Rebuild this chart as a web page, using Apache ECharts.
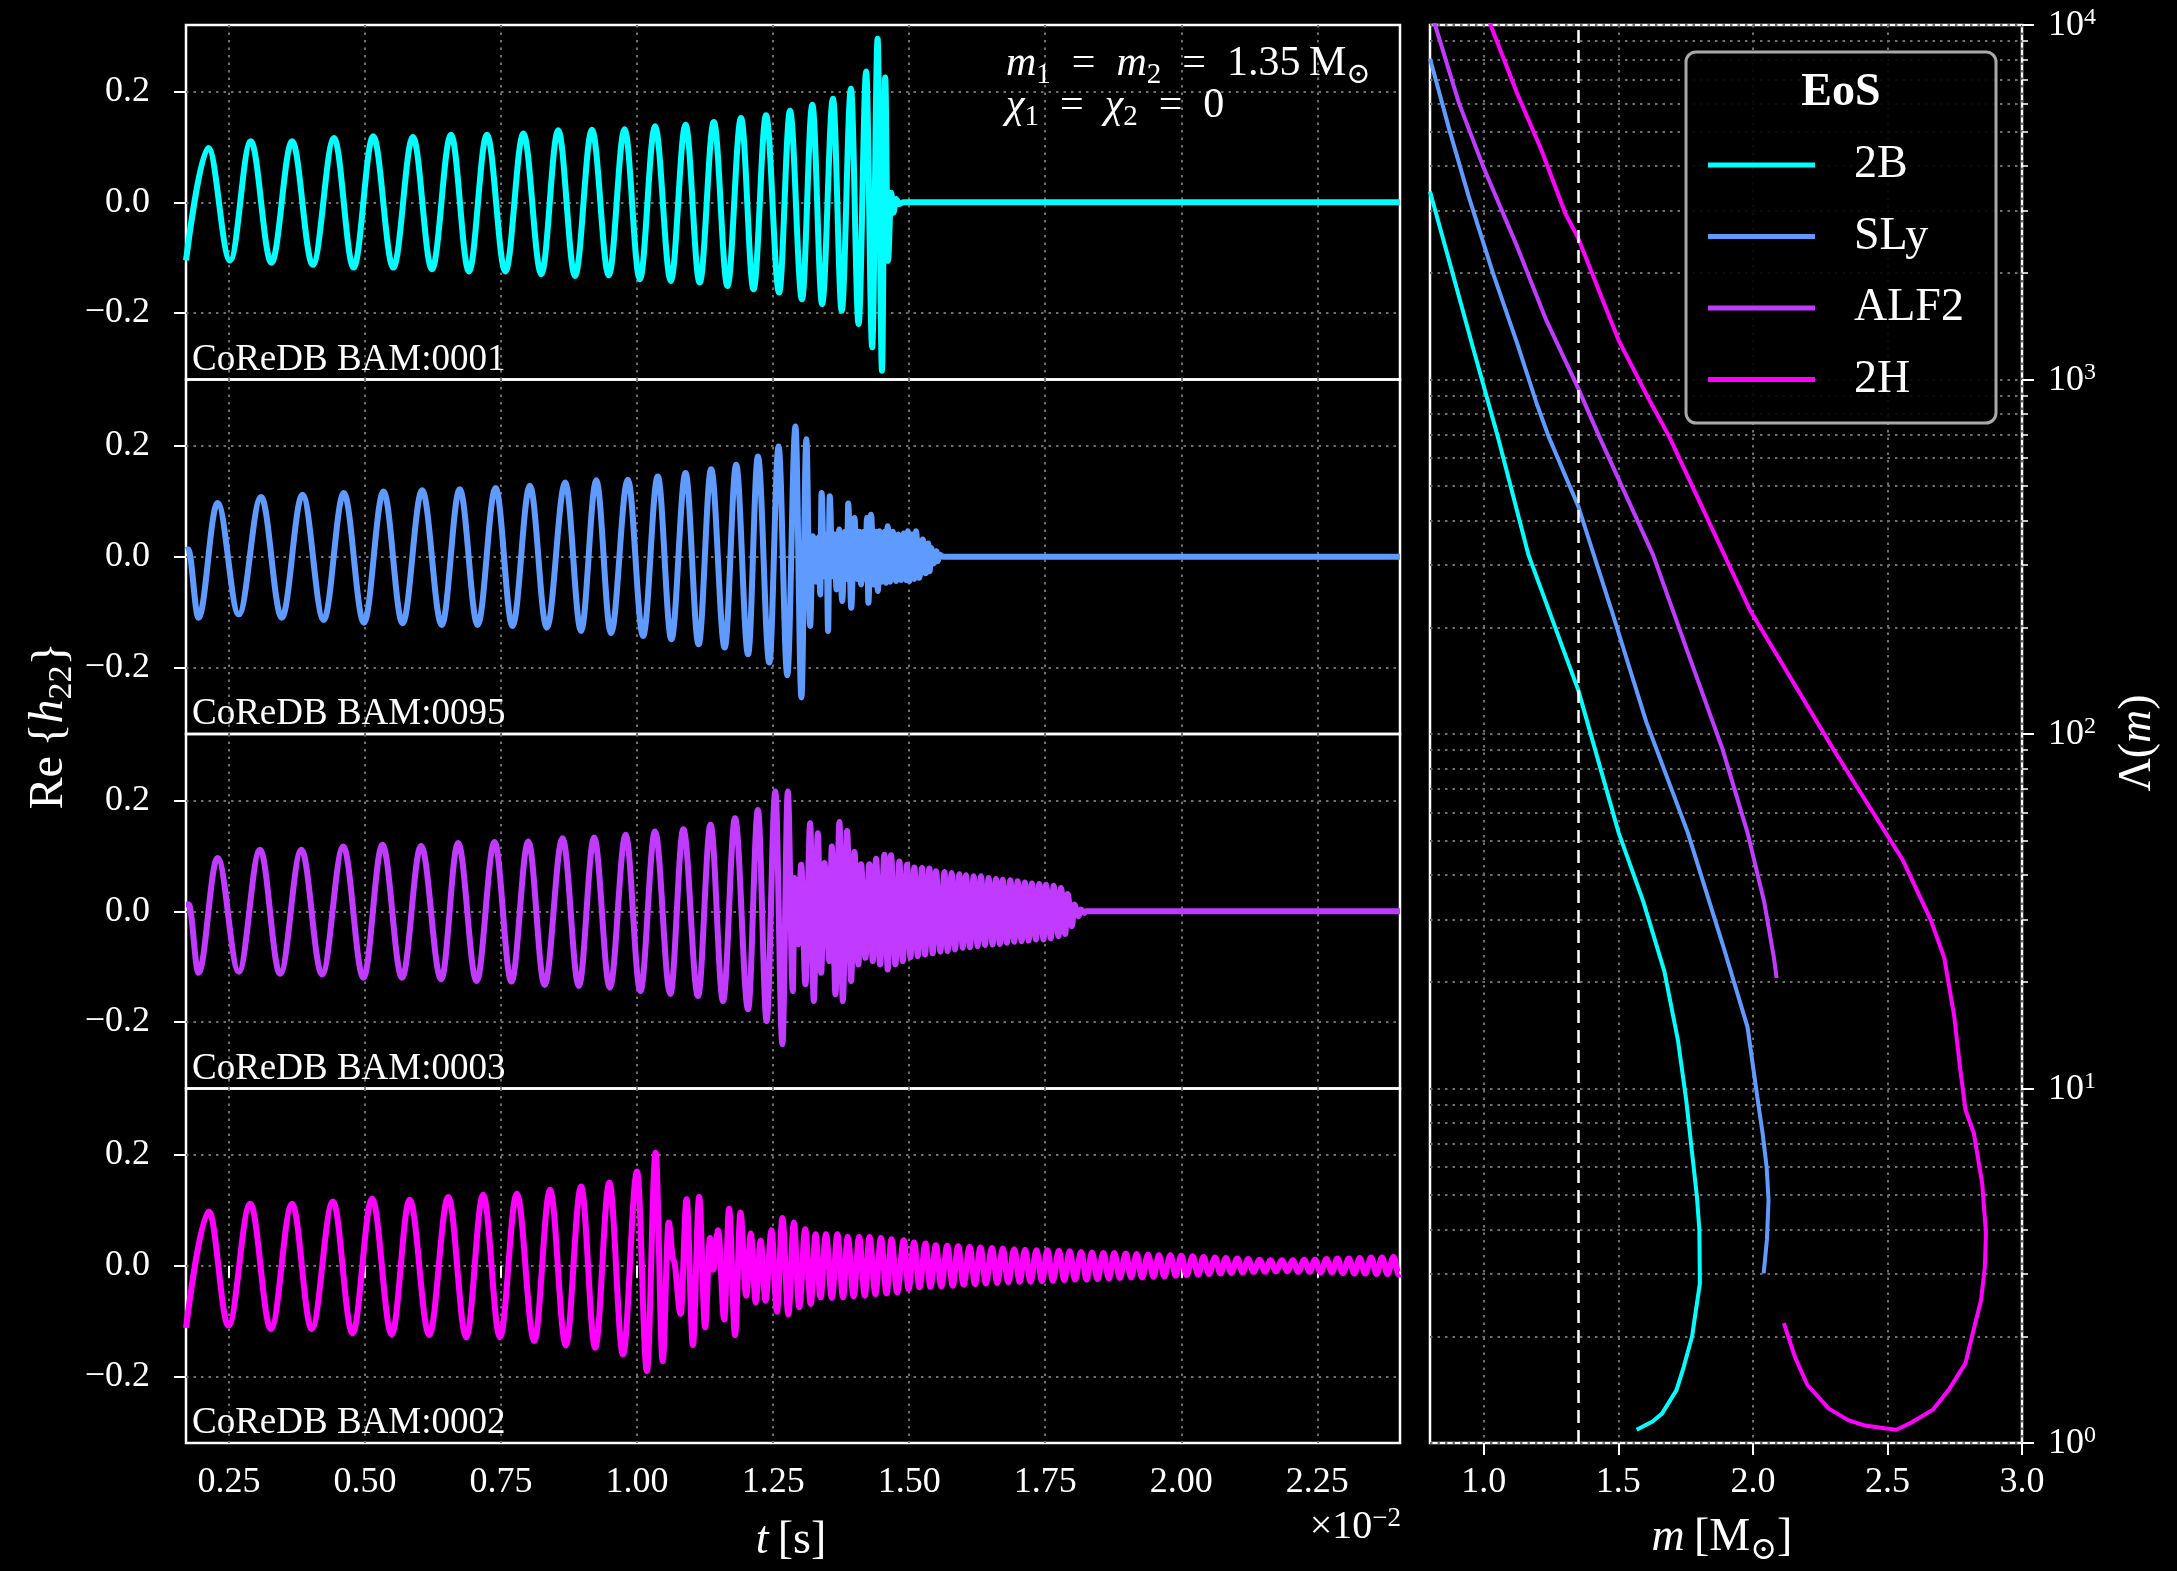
<!DOCTYPE html>
<html>
<head>
<meta charset="utf-8">
<script src="https://cdn.jsdelivr.net/npm/echarts@6/dist/echarts.min.js"></script>
<style>
html,body{margin:0;padding:0;background:#000;}
#chart{width:2177px;height:1571px;}
</style>
</head>
<body>
<div id="chart"></div>
<script>
// ---------------- data ----------------
// time in units of 1e-2 s, strain Re{h22}; points are successive peaks and troughs
const tTicks = [0.25, 0.5, 0.75, 1.0, 1.25, 1.5, 1.75, 2.0, 2.25];
const hTicks = [-0.2, 0, 0.2];
const mTicks = [1.0, 1.5, 2.0, 2.5, 3.0];
const lambdaMinorTicks = [2,3,4,5,6,7,8,9,20,30,40,50,60,70,80,90,200,300,400,500,600,700,800,900,2000,3000,4000,5000,6000,7000,8000,9000];
const refMass = 1.35;

const runLabels = ['CoReDB BAM:0001', 'CoReDB BAM:0095', 'CoReDB BAM:0003', 'CoReDB BAM:0002'];
const eosNames = ['2B', 'SLy', 'ALF2', '2H'];
const eosColors = ['#00ffff', '#5f9bff', '#c03bff', '#ff00ff'];

const wave0001 = [
  [0.171,-0.105],[0.212,0.098],[0.252,-0.105],[0.290,0.110],[0.328,-0.109],[0.366,0.110],[0.404,-0.113],[0.443,0.116],
  [0.479,-0.118],[0.515,0.119],[0.552,-0.118],[0.588,0.118],[0.623,-0.121],[0.658,0.122],[0.691,-0.125],[0.724,0.122],
  [0.758,-0.125],[0.791,0.124],[0.824,-0.130],[0.855,0.130],[0.886,-0.133],[0.917,0.131],[0.948,-0.132],[0.977,0.132],
  [1.005,-0.139],[1.033,0.137],[1.062,-0.142],[1.089,0.140],[1.115,-0.145],[1.141,0.145],[1.166,-0.151],[1.191,0.152],
  [1.214,-0.157],[1.237,0.157],[1.261,-0.163],[1.281,0.165],[1.303,-0.175],[1.322,0.176],[1.340,-0.184],[1.360,0.187],
  [1.376,-0.196],[1.393,0.205],[1.407,-0.220],[1.421,0.236],[1.432,-0.262],[1.442,0.295],[1.450,-0.304],[1.456,0.225],
  [1.461,-0.106],[1.467,0.017],[1.471,-0.019],[1.476,0.006],[1.481,-0.003],[1.490,0],[2.402,0]
];

const wave0095 = [
  [0.171,0.012],[0.175,0.013],[0.194,-0.110],[0.229,0.097],[0.268,-0.104],[0.309,0.108],[0.347,-0.110],[0.385,0.112],
  [0.424,-0.114],[0.461,0.115],[0.498,-0.119],[0.534,0.118],[0.569,-0.120],[0.605,0.120],[0.641,-0.123],[0.674,0.122],
  [0.707,-0.123],[0.740,0.124],[0.771,-0.125],[0.803,0.128],[0.834,-0.128],[0.868,0.134],[0.897,-0.134],[0.925,0.138],
  [0.952,-0.138],[0.983,0.139],[1.011,-0.143],[1.038,0.145],[1.063,-0.149],[1.089,0.151],[1.113,-0.158],[1.136,0.158],
  [1.161,-0.164],[1.182,0.166],[1.204,-0.176],[1.222,0.181],[1.243,-0.191],[1.260,0.199],[1.276,-0.214],[1.291,0.235],
  [1.302,-0.254],[1.311,0.212],
  [1.318,-0.125],[1.323,0.037],[1.329,-0.045],[1.334,0.035],[1.3365,-0.068],[1.339,0.115],[1.344,-0.035],[1.348,0.040],
  [1.351,-0.134],[1.354,0.109],[1.359,-0.035],[1.363,0.040],[1.3665,-0.059],[1.3715,0.049],[1.377,-0.080],[1.382,0.045],
  [1.3855,-0.040],[1.388,0.096],[1.3935,-0.092],[1.3995,0.070],[1.4045,-0.040],[1.4085,0.045],[1.4115,-0.050],[1.4165,0.045],
  [1.4195,-0.040],[1.4225,0.070],[1.425,-0.083],[1.430,0.076],[1.435,-0.050],[1.4395,0.045],[1.4425,-0.062],[1.4455,0.046],
  [1.450,-0.045],[1.455,0.045],[1.4575,-0.047],[1.4605,0.055],[1.465,-0.045],[1.470,0.045],[1.476,-0.044],[1.480,0.040],
  [1.485,-0.042],[1.490,0.042],[1.4945,-0.042],[1.4975,0.046],[1.5005,-0.044],[1.505,0.040],[1.5095,-0.040],[1.5125,0.046],
  [1.5185,-0.038],[1.525,0.031],[1.530,-0.030],[1.535,0.024],[1.5375,-0.026],[1.5405,0.016],[1.545,-0.012],[1.550,0.010],
  [1.5525,-0.008],[1.5555,0.004],[1.562,0],[2.402,0]
];

const wave0003 = [
  [0.171,0.012],[0.176,0.012],[0.194,-0.111],[0.229,0.096],[0.268,-0.109],[0.307,0.111],[0.344,-0.113],[0.383,0.111],
  [0.421,-0.114],[0.460,0.117],[0.497,-0.120],[0.532,0.120],[0.568,-0.120],[0.603,0.118],[0.640,-0.123],[0.671,0.123],
  [0.705,-0.126],[0.738,0.125],[0.769,-0.127],[0.800,0.126],[0.830,-0.133],[0.863,0.132],[0.893,-0.135],[0.921,0.133],
  [0.950,-0.138],[0.979,0.138],[1.006,-0.144],[1.033,0.144],[1.061,-0.149],[1.085,0.148],[1.112,-0.153],[1.135,0.156],
  [1.158,-0.162],[1.180,0.168],[1.204,-0.177],[1.222,0.183],[1.238,-0.198],[1.254,0.216],[1.267,-0.240],[1.277,0.216],
  [1.2862,-0.144],[1.2893,0.060],[1.2955,-0.060],[1.3015,0.084],[1.3094,-0.132],[1.3180,0.159],[1.3247,-0.162],[1.3321,0.141],
  [1.3382,-0.111],[1.3443,0.087],[1.3535,-0.090],[1.3578,0.117],[1.3645,-0.150],[1.3719,0.161],[1.3780,-0.162],[1.3859,0.145],
  [1.3933,-0.126],[1.3994,0.107],[1.4067,-0.096],[1.4116,0.085],[1.4196,-0.084],[1.4269,0.085],[1.4331,-0.090],[1.4392,0.095],
  [1.4465,-0.096],[1.4545,0.102],[1.4606,-0.105],[1.4667,0.101],[1.4747,-0.096],[1.4820,0.090],[1.4881,-0.090],[1.4961,0.084],
  [1.5022,-0.083],[1.5096,0.079],[1.5157,-0.081],[1.5237,0.078],[1.5291,-0.078],[1.5371,0.077],[1.5432,-0.076],[1.5494,0.072],
  [1.5573,-0.073],[1.5647,0.071],[1.5707,-0.072],[1.5781,0.069],[1.5842,-0.069],[1.5922,0.067],[1.5983,-0.066],[1.6045,0.065],
  [1.6117,-0.065],[1.6185,0.063],[1.6258,-0.063],[1.6320,0.063],[1.6393,-0.061],[1.6460,0.060],[1.6533,-0.060],[1.6595,0.058],
  [1.6668,-0.059],[1.6717,0.057],[1.6797,-0.057],[1.6858,0.056],[1.6931,-0.055],[1.6993,0.054],[1.7066,-0.054],[1.7127,0.052],
  [1.7195,-0.053],[1.7256,0.050],[1.7330,-0.051],[1.7391,0.049],[1.7470,-0.051],[1.7513,0.048],[1.7605,-0.049],[1.7654,0.046],
  [1.7746,-0.045],[1.7789,0.042],[1.7868,-0.041],[1.7911,0.031],[1.7991,-0.027],[1.8034,0.012],[1.8113,-0.009],[1.8156,0.003],
  [1.8217,-0.003],[1.8248,0],[2.402,0]
];

const wave0002 = [
  [0.171,-0.112],[0.213,0.098],[0.249,-0.108],[0.289,0.112],[0.327,-0.114],[0.366,0.112],[0.402,-0.114],[0.441,0.116],
  [0.477,-0.122],[0.513,0.121],[0.549,-0.124],[0.582,0.119],[0.618,-0.125],[0.653,0.124],[0.686,-0.129],[0.717,0.128],
  [0.748,-0.129],[0.779,0.130],[0.811,-0.136],[0.840,0.137],[0.869,-0.144],[0.897,0.143],[0.923,-0.148],[0.949,0.150],
  [0.974,-0.160],[1.000,0.170],[1.018,-0.190],[1.034,0.204],[1.047,-0.172],[1.058,0.078],[1.067,0.010],[1.080,-0.087],
  [1.091,0.120],[1.1025,-0.143],[1.114,0.124],[1.125,-0.111],[1.134,0.050],[1.140,-0.007],[1.149,0.064],[1.160,-0.097],
  [1.169,0.103],[1.180,-0.125],[1.190,0.096],[1.2005,-0.054],[1.209,0.058],[1.218,-0.066],[1.227,0.045],[1.236,-0.063],
  [1.247,0.064],[1.257,-0.083],[1.267,0.086],[1.278,-0.088],[1.288,0.078],[1.298,-0.075],[1.309,0.066],[1.319,-0.069],
  [1.328,0.057],[1.337,-0.057],[1.347,0.057],[1.358,-0.058],[1.368,0.057],[1.3785,-0.057],[1.387,0.052],[1.398,-0.055],
  [1.408,0.052],[1.4185,-0.054],[1.427,0.052],[1.438,-0.051],[1.448,0.050],[1.4585,-0.050],[1.4675,0.048],[1.478,-0.048],
  [1.490,0.046],[1.499,-0.042],[1.509,0.042],[1.519,-0.039],[1.530,0.040],[1.539,-0.038],
  [1.549,0.037],[1.559,-0.037],[1.570,0.036],[1.580,-0.036],[1.590,0.035],[1.600,-0.034],[1.611,0.034],[1.621,-0.033],
  [1.631,0.033],[1.641,-0.032],[1.652,0.032],[1.662,-0.031],[1.672,0.031],[1.682,-0.030],[1.693,0.030],[1.703,-0.029],
  [1.713,0.029],[1.723,-0.029],[1.734,0.028],[1.744,-0.028],[1.754,0.028],[1.764,-0.027],[1.775,0.027],[1.785,-0.026],
  [1.795,0.026],[1.805,-0.025],[1.816,0.025],[1.826,-0.025],[1.836,0.024],[1.846,-0.024],[1.857,0.023],[1.867,-0.023],
  [1.877,0.023],[1.887,-0.022],[1.898,0.022],[1.908,-0.021],[1.918,0.021],[1.928,-0.021],[1.939,0.020],[1.949,-0.020],
  [1.959,0.019],[1.969,-0.019],[1.980,0.019],[1.990,-0.018],[2.000,0.018],[2.010,-0.017],[2.021,0.017],[2.031,-0.016],
  [2.041,0.016],[2.051,-0.015],[2.062,0.015],[2.072,-0.014],[2.082,0.014],[2.092,-0.013],[2.103,0.013],[2.113,-0.012],
  [2.123,0.012],[2.133,-0.011],[2.144,0.011],[2.154,-0.011],[2.164,0.010],[2.174,-0.010],[2.185,0.010],[2.195,-0.010],
  [2.205,0.010],[2.215,-0.011],[2.226,0.011],[2.236,-0.011],[2.246,0.011],[2.256,-0.012],[2.267,0.012],[2.277,-0.012],
  [2.287,0.013],[2.297,-0.013],[2.308,0.013],[2.318,-0.014],[2.328,0.014],[2.338,-0.014],[2.349,0.015],[2.359,-0.015],
  [2.369,0.015],[2.379,-0.015],[2.390,0.016],[2.400,-0.016],[2.402,-0.015]
];

// tidal deformability Lambda(m), mass in solar masses
const lambda2B = [[0.800,3390],[0.872,2150],[0.965,1190],[1.052,690],[1.166,320],[1.351,133],[1.501,52.7],[1.593,33.6],
  [1.671,21.4],[1.722,13.6],[1.752,9.3],[1.792,4.95],[1.801,3.99],[1.803,2.82],[1.774,2.0],[1.743,1.64],[1.716,1.41],
  [1.662,1.21],[1.627,1.15],[1.568,1.09]];
const lambdaSLy = [[0.800,8040],[0.872,5060],[0.944,3280],[1.034,1995],[1.124,1265],[1.196,857],[1.241,690],[1.351,439],
  [1.475,223],[1.604,108],[1.758,52.7],[1.887,25.6],[1.980,14.9],[2.016,9.5],[2.036,7.48],[2.051,6.01],[2.058,4.84],
  [2.052,3.74],[2.040,3.01]];
const lambdaALF2 = [[0.815,10230],[0.908,6010],[0.998,3980],[1.124,2370],[1.232,1470],[1.348,955],[1.429,690],[1.629,320],
  [1.758,170],[1.887,90.6],[1.980,52.7],[2.042,33.6],[2.078,23.4],[2.088,20.5]];
const lambda2H = [[1.020,10230],[1.124,6410],[1.214,4440],[1.303,2940],[1.348,2530],[1.501,1290],[1.609,893],[1.689,690],
  [1.990,223],[2.299,90.6],[2.557,44.1],[2.660,30.0],[2.711,23.4],[2.748,16.0],[2.770,11.4],[2.790,8.7],[2.821,7.48],[2.852,5.41],[2.866,3.91],
  [2.862,3.14],[2.848,2.53],[2.817,2.04],[2.790,1.68],[2.727,1.41],[2.668,1.24],[2.587,1.14],[2.533,1.09],[2.489,1.10],
  [2.417,1.12],[2.354,1.16],[2.282,1.25],[2.202,1.46],[2.156,1.75],[2.115,2.18]];

// ---------------- layout & styling ----------------
const FONT = '"Liberation Serif", "DejaVu Serif", serif';
const TICK_FS = 36;
const GRID_LINE = { color: '#6e6e6e', width: 2, type: [2.5, 5] };
const WHITE = '#ffffff';
const EQ = '\u2002=\u2002';

const waves = [wave0001, wave0095, wave0003, wave0002];
const lambdas = [lambda2B, lambdaSLy, lambdaALF2, lambda2H];

const L_LEFT = 186, L_WIDTH = 1214, P_TOP = 25, P_H = 354.5;
const R_LEFT = 1430, R_WIDTH = 592, R_H = 1418;

// rich text pieces: regular, italic and subscript (subscript hangs below the base glyphs)
function richSet(size) {
  const base = { fontFamily: FONT, fontSize: size, fill: WHITE, color: WHITE, verticalAlign: 'top' };
  return {
    n: Object.assign({}, base),
    i: Object.assign({}, base, { fontStyle: 'italic' }),
    sub: { fontFamily: FONT, fontSize: Math.round(size * 0.7), fill: WHITE, color: WHITE,
      lineHeight: Math.round(size * 1.12), verticalAlign: 'bottom' }
  };
}
// rich text pieces: base number with a superscript
function supRich(size) {
  return {
    b: { fontFamily: FONT, fontSize: size, fill: WHITE, color: WHITE, lineHeight: size + 2, verticalAlign: 'bottom' },
    sup: { fontFamily: FONT, fontSize: Math.round(size * 0.68), fill: WHITE, color: WHITE, verticalAlign: 'top' }
  };
}

const grids = [];
const xAxes = [];
const yAxes = [];
const series = [];

for (let i = 0; i < 4; i++) {
  grids.push({ left: L_LEFT, top: P_TOP + i * P_H, width: L_WIDTH, height: P_H,
    show: true, borderColor: WHITE, borderWidth: 2.5, backgroundColor: 'transparent', containLabel: false });
  const bottom = i === 3;
  xAxes.push({
    type: 'value', gridIndex: i, min: 0.171, max: 2.402,
    axisLine: { show: false },
    axisTick: { show: bottom, customValues: tTicks, length: 12, lineStyle: { color: WHITE, width: 2 } },
    axisLabel: { show: bottom, customValues: tTicks, margin: 22, color: WHITE, fontFamily: FONT, fontSize: TICK_FS,
      formatter: v => v.toFixed(2) },
    splitLine: { show: true, lineStyle: GRID_LINE }
  });
  yAxes.push({
    type: 'value', gridIndex: i, min: -0.32, max: 0.32,
    axisLine: { show: false },
    axisTick: { show: true, customValues: hTicks, length: 12, lineStyle: { color: WHITE, width: 2 } },
    axisLabel: { show: true, customValues: hTicks, margin: 36, color: WHITE, fontFamily: FONT, fontSize: TICK_FS,
      formatter: v => (Math.abs(v) < 1e-9 ? '0.0' : (v < 0 ? '\u2212' : '') + Math.abs(v).toFixed(1)) },
    splitLine: { show: true, lineStyle: GRID_LINE }
  });
  series.push({
    name: runLabels[i], type: 'line', xAxisIndex: i, yAxisIndex: i, data: waves[i],
    symbol: 'none', showSymbol: false, smooth: 0.36, smoothMonotone: 'x', silent: true,
    lineStyle: { color: eosColors[i], width: 6 }, itemStyle: { color: eosColors[i] }, z: 3
  });
}

// right panel: Lambda(m)
grids.push({ left: R_LEFT, top: P_TOP, width: R_WIDTH, height: R_H,
  show: true, borderColor: WHITE, borderWidth: 2.5, backgroundColor: 'transparent' });
xAxes.push({
  type: 'value', gridIndex: 4, min: 0.8, max: 3.0,
  axisLine: { show: false },
  axisTick: { show: true, customValues: mTicks, length: 12, lineStyle: { color: WHITE, width: 2 } },
  axisLabel: { show: true, customValues: mTicks, margin: 22, color: WHITE, fontFamily: FONT, fontSize: TICK_FS,
    formatter: v => v.toFixed(1) },
  splitLine: { show: true, lineStyle: GRID_LINE }
});
yAxes.push({
  type: 'log', logBase: 10, gridIndex: 4, min: 1, max: 10000, position: 'right',
  axisLine: { show: false },
  axisTick: { show: true, length: 12, lineStyle: { color: WHITE, width: 2 } },
  axisLabel: { show: true, margin: 26, color: WHITE, showMinLabel: true, showMaxLabel: true,
    formatter: v => '{b|10}{sup|' + Math.round(Math.log10(v)) + '}', rich: supRich(TICK_FS) },
  splitLine: { show: true, lineStyle: GRID_LINE }
});
yAxes.push({
  type: 'log', logBase: 10, gridIndex: 4, min: 1, max: 10000, position: 'right', offset: 0,
  axisLine: { show: false },
  axisTick: { show: true, customValues: lambdaMinorTicks, length: 6, lineStyle: { color: WHITE, width: 1.5 } },
  axisLabel: { show: false, customValues: lambdaMinorTicks },
  splitLine: { show: true, lineStyle: GRID_LINE }
});
for (let k = 0; k < 4; k++) {
  const s = {
    name: eosNames[k], type: 'line', xAxisIndex: 4, yAxisIndex: 4, data: lambdas[k],
    symbol: 'none', showSymbol: false, smooth: false, silent: true,
    lineStyle: { color: eosColors[k], width: 4 }, itemStyle: { color: eosColors[k] }, z: 3
  };
  if (k === 0) {
    s.markLine = { silent: true, symbol: ['none', 'none'], label: { show: false },
      lineStyle: { color: WHITE, width: 2.5, type: [13, 7] }, data: [{ xAxis: refMass }] };
  }
  series.push(s);
}

// ---------------- text overlays ----------------
const graphics = [];
for (let i = 0; i < 4; i++) {
  graphics.push({ type: 'text', left: 192, top: P_TOP + (i + 1) * P_H - 38, z: 20,
    style: { text: runLabels[i], fill: WHITE, font: '37px ' + FONT } });
}
function richText(x, y, text, rich, size, align, extra) {
  return Object.assign({ type: 'text', x: x, y: y, z: 20,
    style: { text: text, rich: rich, fill: WHITE, font: size + 'px ' + FONT, align: align, verticalAlign: 'middle' } }, extra || {});
}
graphics.push(
  richText(1006, 66, '{i|m}{sub|1}{n|' + EQ + '}{i|m}{sub|2}{n|' + EQ + '1.35\u2009M}{sub|\u2299}', richSet(42), 42, 'left'),
  richText(1006, 108, '{i|\u03c7}{sub|1}{n|' + EQ + '}{i|\u03c7}{sub|2}{n|' + EQ + '0}', richSet(42), 42, 'left'),
  // axis titles
  richText(52, 726, '{n|Re\u2009\u007b}{i|h}{sub|22}{n|\u007d}', richSet(48), 48, 'center', { rotation: Math.PI / 2 }),
  richText(791, 1541, '{i|t}{n|\u2009[s]}', richSet(46), 46, 'center'),
  richText(1401, 1526, '{b|\u00d710}{sup|\u22122}', supRich(40), 40, 'right'),
  richText(1722, 1541, '{i|m}{n|\u2009[M}{sub|\u2299}{n|]}', richSet(46), 46, 'center'),
  richText(2138, 743, '{n|\u039b(}{i|m}{n|)}', richSet(46), 46, 'center', { rotation: Math.PI / 2 })
);
// legend frame and title
graphics.push({ type: 'rect', z: 8, shape: { x: 1686, y: 52, width: 310, height: 371, r: 10 },
  style: { fill: 'rgba(0,0,0,0.9)', stroke: '#a9a9a9', lineWidth: 3 } });
graphics.push({ type: 'text', x: 1841, y: 93, z: 21,
  style: { text: 'EoS', fill: WHITE, font: 'bold 46px ' + FONT, align: 'center', verticalAlign: 'middle' } });

const option = {
  backgroundColor: '#000',
  animation: false,
  grid: grids,
  xAxis: xAxes,
  yAxis: yAxes,
  series: series,
  legend: {
    data: eosNames, orient: 'vertical', left: 1703, top: 135, itemWidth: 107, itemHeight: 5, itemGap: 21.5,
    icon: 'rect', selectedMode: false, z: 20,
    textStyle: { color: WHITE, fontFamily: FONT, fontSize: 46, lineHeight: 50, padding: [0, 0, 0, 34] }
  },
  graphic: graphics
};

const chart = echarts.init(document.getElementById('chart'), null, { renderer: 'canvas' });
chart.setOption(option);
</script>
</body>
</html>
